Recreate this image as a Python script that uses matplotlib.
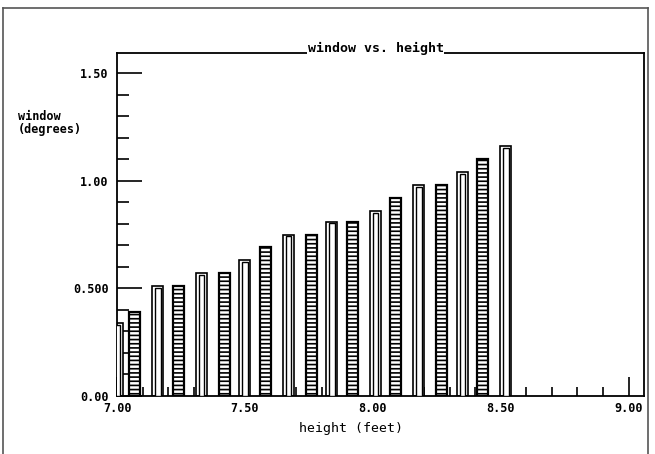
# -*- coding: utf-8 -*-

'''
window vs. height - dot matrix style bar chart
'''

import matplotlib
matplotlib.use('Agg')
import matplotlib.pyplot as plt
from matplotlib.lines import Line2D

# data
open_x = [7.00, 7.16, 7.33, 7.50, 7.67, 7.84, 8.01, 8.18, 8.35, 8.52]
open_h = [0.34, 0.51, 0.57, 0.63, 0.75, 0.81, 0.86, 0.98, 1.04, 1.16]
hatch_x = [7.07, 7.24, 7.42, 7.58, 7.76, 7.92, 8.09, 8.27, 8.43]
hatch_h = [0.39, 0.51, 0.57, 0.69, 0.75, 0.81, 0.92, 0.98, 1.10]

x_ticks = [7.0, 7.5, 8.0, 8.5, 9.0]
x_labels = ['7.00', '7.50', '8.00', '8.50', '9.00']
y_ticks = [0.0, 0.5, 1.0, 1.5]
y_labels = ['0.00', '0.500', '1.00', '1.50']

################################################################################

plt.rcParams['font.family'] = ['DejaVu Sans Mono']
plt.rcParams['font.weight'] = 'bold'
plt.rcParams['hatch.linewidth'] = 1.2

W, H = 655, 454
fig = plt.figure(figsize=(W / 100, H / 100), dpi=100)

def px(x0, y0, x1, y1):
    # pixel box (top-left origin) -> figure fraction rect
    return [x0 / W, 1 - y1 / H, (x1 - x0) / W, (y1 - y0) / H]

ax = fig.add_axes(px(117, 53, 644, 396))

bw = 0.043
ax.bar(open_x, open_h, width=bw, color='white', edgecolor='black', linewidth=1.2, zorder=2)
ax.bar(open_x, [h - 0.008 for h in open_h], width=bw * 0.5, color='white',
       edgecolor='black', linewidth=1.0, zorder=3)
ax.bar(hatch_x, hatch_h, width=bw, color='white', edgecolor='black', linewidth=1.6,
       hatch='----', zorder=2)

ax.set_xlim(7.0, 9.06)
ax.set_ylim(0, 1.593)

ax.set_xticks(x_ticks)
ax.set_xticklabels(x_labels)
ax.set_xticks([7.0 + 0.1 * i for i in range(21)], minor=True)
ax.set_yticks(y_ticks)
ax.set_yticklabels(y_labels)
ax.set_yticks([0.1 * i for i in range(16)], minor=True)

ax.tick_params(axis='x', which='major', direction='in', length=14, width=1.2, pad=4, labelsize=8.5)
ax.tick_params(axis='x', which='minor', direction='in', length=6.5, width=1.2)
ax.tick_params(axis='y', which='major', direction='in', length=18, width=1.2, pad=6, labelsize=8.5)
ax.tick_params(axis='y', which='minor', direction='in', length=8.5, width=1.2)

for s in ax.spines.values():
    s.set_linewidth(1.3)

# title sits on the top frame line
ax.text(0.491, 1.014, 'window vs. height', transform=ax.transAxes, ha='center', va='center',
        fontsize=9.5, bbox=dict(facecolor='white', edgecolor='none', pad=0.5), zorder=10,
        clip_on=False)

ax.set_xlabel('height (feet)', fontsize=9.5, labelpad=1)
ax.xaxis.set_label_coords(0.444, -0.075)

fig.text(18 / W, 1 - 123 / H, 'window\n(degrees)', ha='left', va='center',
         fontsize=8.5, linespacing=1.0)

# scanned page border
border = dict(color='#555555', linewidth=1.2, transform=fig.transFigure)
fig.add_artist(Line2D([3 / W, 3 / W], [0, 1 - 8 / H], **border))
fig.add_artist(Line2D([3 / W, 648 / W], [1 - 8 / H, 1 - 8 / H], **border))
fig.add_artist(Line2D([648 / W, 648 / W], [0, 1 - 8 / H], **border))

fig.savefig('out.png', dpi=100)
